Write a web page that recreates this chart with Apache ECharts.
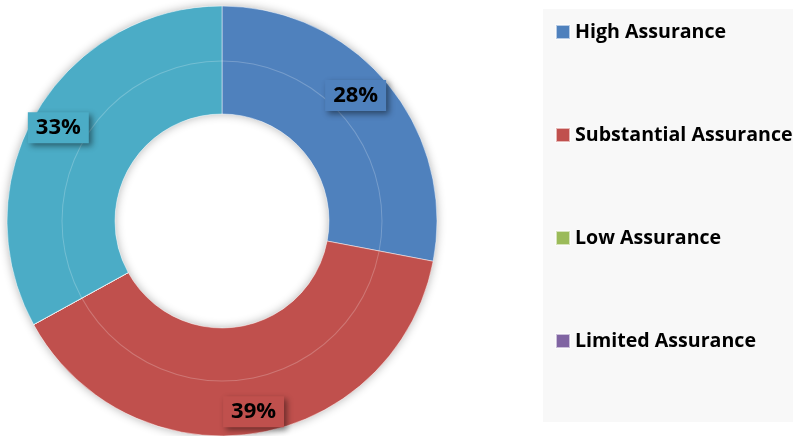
<!DOCTYPE html>
<html>
<head>
<meta charset="utf-8">
<script src="https://cdn.jsdelivr.net/npm/echarts@6/dist/echarts.min.js"></script>
<style>
  html, body { margin: 0; padding: 0; background: #fff; }
  #chart { width: 793px; height: 436px; }
</style>
</head>
<body>
<div id="chart"></div>
<script>
// Assurance ratings (percent of reviews)
const categories = ['High Assurance', 'Substantial Assurance', 'Low Assurance', 'Limited Assurance', 'Other'];
const values = [28, 39, 0, 0, 33];
const colors = ['#4f81bd', '#c0504d', '#9bbb59', '#8064a2', '#4bacc6'];
const legendNames = categories.slice(0, 4);

const CENTER = [222, 221];
const FONT = '"Open Sans", Lato, sans-serif';

const sliceData = categories.map((name, i) => ({
  name,
  value: values[i],
  itemStyle: { color: colors[i] }
}));

const labelData = categories.map((name, i) => ({
  name,
  value: values[i],
  label: { show: values[i] > 0, backgroundColor: colors[i] }
}));

// small per-label nudges so the boxes sit where a best-fit layout puts them
const labelNudge = { 0: [-12, -5], 1: [2, 4], 4: [-1, 3] };

const chart = echarts.init(document.getElementById('chart'), null, { renderer: 'canvas' });
chart.setOption({
  animation: false,
  color: colors,
  legend: {
    data: legendNames,
    orient: 'vertical',
    left: 543,
    top: 9,
    padding: [11, 40, 69, 12],
    backgroundColor: '#f8f8f8',
    icon: 'rect',
    itemWidth: 14,
    itemHeight: 14,
    itemGap: 79,
    selectedMode: false,
    textStyle: { fontFamily: FONT, fontSize: 19.6, fontWeight: 'bold', color: '#000', lineHeight: 24 }
  },
  series: [
    {
      // soft shadow behind the ring
      type: 'pie',
      center: CENTER,
      radius: [107, 215],
      silent: true,
      label: { show: false },
      data: [{ value: 1, itemStyle: { color: '#fff', shadowBlur: 10, shadowColor: 'rgba(0,0,0,0.3)' } }]
    },
    {
      type: 'pie',
      center: CENTER,
      radius: [107, 215],
      startAngle: 90,
      clockwise: true,
      silent: true,
      label: { show: false },
      labelLine: { show: false },
      itemStyle: { borderColor: 'rgba(255,255,255,0.6)', borderWidth: 0.8 },
      data: sliceData
    },
    {
      // faint inner guide ring
      type: 'pie',
      center: CENTER,
      radius: [159.5, 160.5],
      silent: true,
      label: { show: false },
      data: [{ value: 1, itemStyle: { color: 'rgba(255,255,255,0.22)' } }]
    },
    {
      // percentage labels
      type: 'pie',
      center: CENTER,
      radius: [157, 215],
      startAngle: 90,
      clockwise: true,
      silent: true,
      itemStyle: { color: 'transparent' },
      labelLine: { show: false },
      label: {
        position: 'inside',
        formatter: '{c}%',
        fontFamily: FONT,
        fontSize: 22,
        fontWeight: 'bold',
        color: '#000',
        lineHeight: 24,
        padding: [4, 8, 3, 8],
        shadowBlur: 6,
        shadowOffsetX: 3,
        shadowOffsetY: 3,
        shadowColor: 'rgba(0,0,0,0.45)'
      },
      labelLayout: function (params) {
        const n = labelNudge[params.dataIndex];
        return n ? { dx: n[0], dy: n[1] } : {};
      },
      data: labelData
    }
  ]
});
</script>
</body>
</html>
